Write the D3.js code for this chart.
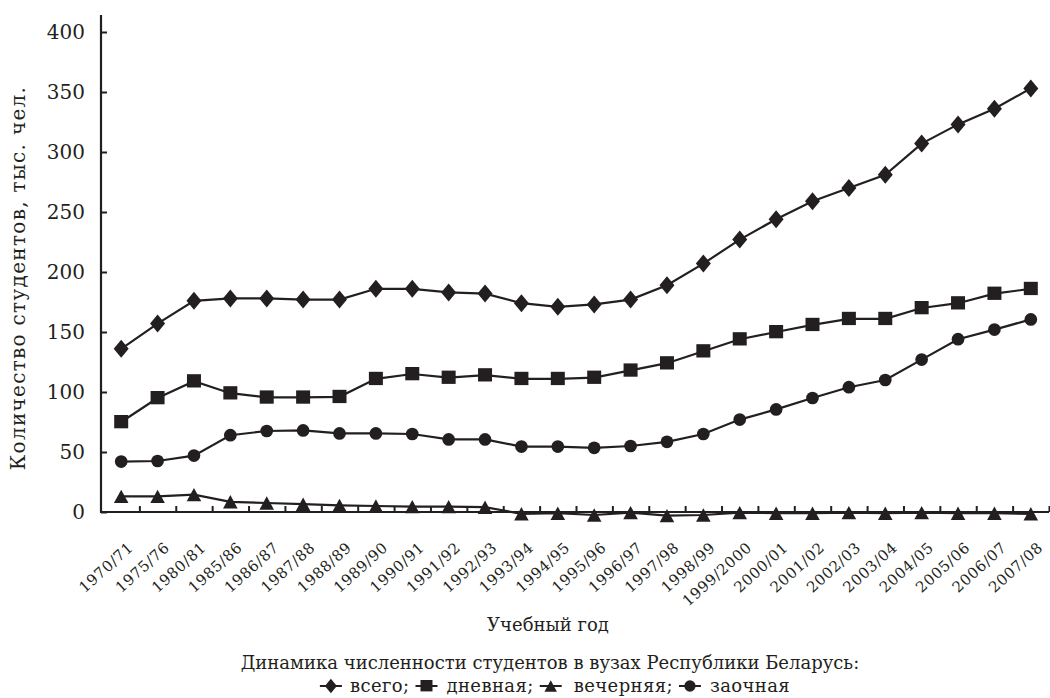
<!DOCTYPE html>
<html><head><meta charset="utf-8">
<script src="https://cdn.jsdelivr.net/npm/d3@7"></script>
<style>
html,body{margin:0;padding:0;background:#fff;}
svg{display:block;}
text{font-family:"DejaVu Serif",serif;fill:#231f20;}
</style></head>
<body>
<svg id="chart" width="1050" height="698"></svg>
<script>
const categories = ["1970/71","1975/76","1980/81","1985/86","1986/87","1987/88","1988/89","1989/90","1990/91","1991/92","1992/93","1993/94","1994/95","1995/96","1996/97","1997/98","1998/99","1999/2000","2000/01","2001/02","2002/03","2003/04","2004/05","2005/06","2006/07","2007/08"];
const total   = [136,157,176,178,178,177,177,186,186,183,182,174,171,173,177,189,207,227,244,259,270,281,307,323,336,353];
const daytime = [75,95,109,99,95.5,95.5,96,111,115,112,114,111,111,112,118,124,134,144,150,156,161,161,170,174,182,186];
const evening = [13,13,14.5,8.5,7.5,6.5,5.5,5,4.5,4.5,4,-1.5,-1,-2.5,-0.5,-3,-2.5,-0.5,-1,-1,-0.5,-1,-0.5,-1,-1,-1.5];
const extramural = [42,42.5,47,64,67.5,68,65.5,65.5,65,60.5,60.5,54.5,54.5,53.5,55,58.5,65,77,85.5,95,104,110,127,144,152,160.5];
const yTicks = [0,50,100,150,200,250,300,350,400];
const seriesNames = ["всего;","дневная;","вечерняя;","заочная"];
const yTitle = "Количество студентов, тыс. чел.";
const xTitle = "Учебный год";
const caption = "Динамика численности студентов в вузах Республики Беларусь:";

const ink = "#231f20";
const svg = d3.select("#chart");

const x = d3.scaleBand().domain(categories).range([103,1049]).paddingInner(0).paddingOuter(0);
const y = d3.scaleLinear().domain([0,400]).range([512,32]);
const axisX = 101;

function marker(g, type, s){
  if(type==="diamond"){
    g.append("path").attr("d",`M0,${-s*0.6}L${s*0.5},0L0,${s*0.6}L${-s*0.5},0Z`);
  } else if(type==="square"){
    g.append("rect").attr("x",-s/2).attr("y",-s/2).attr("width",s).attr("height",s*0.95);
  } else if(type==="triangle"){
    g.append("path").attr("d",`M0,${-s*0.48}L${s*0.52},${s*0.48}L${-s*0.52},${s*0.48}Z`);
  } else {
    g.append("circle").attr("r",s*0.47);
  }
}

// y axis
const yAxis = d3.axisLeft(y).tickValues(yTicks).tickSizeInner(-6).tickSizeOuter(0).tickPadding(16);
const gy = svg.append("g").attr("transform",`translate(${axisX},0)`).call(yAxis);
gy.select(".domain").remove();
gy.selectAll(".tick line").attr("stroke",ink).attr("stroke-width",2);
gy.selectAll(".tick text").attr("font-size",20).attr("font-family","DejaVu Serif").attr("fill",ink);
svg.append("line").attr("x1",axisX).attr("x2",axisX).attr("y1",y(400)-17).attr("y2",y(0)+1)
  .attr("stroke",ink).attr("stroke-width",2.2);

// x axis: ticks at band boundaries
const xb = d3.scaleLinear().domain([0,categories.length]).range(x.range());
const xTickAxis = d3.axisTop(xb).tickValues(d3.range(1,categories.length+1)).tickSize(6).tickFormat("");
const gxb = svg.append("g").attr("transform",`translate(0,${y(0)})`).call(xTickAxis);
gxb.select(".domain").remove();
gxb.selectAll(".tick line").attr("stroke",ink).attr("stroke-width",2);
svg.append("line").attr("x1",axisX).attr("x2",x.range()[1]).attr("y1",y(0)).attr("y2",y(0))
  .attr("stroke",ink).attr("stroke-width",2.2);

const xAxis = d3.axisBottom(x).tickSize(0).tickPadding(0);
const gx = svg.append("g").attr("transform",`translate(0,${y(0)})`).call(xAxis);
gx.select(".domain").remove();
gx.selectAll(".tick text")
  .attr("font-size",15).attr("font-family","DejaVu Serif").attr("fill",ink)
  .attr("letter-spacing",0.6)
  .attr("text-anchor","end").attr("dy",0).attr("y",0)
  .attr("transform","translate(13,37) rotate(-42)");

// series
const series = [
  {vals: total, type:"diamond", size:15},
  {vals: daytime, type:"square", size:14},
  {vals: evening, type:"triangle", size:14},
  {vals: extramural, type:"circle", size:13.5}
];
const line = d3.line().x((d,i)=>x(categories[i])+x.bandwidth()/2).y(d=>y(d));
series.forEach(s=>{
  svg.append("path").datum(s.vals).attr("d",line).attr("fill","none").attr("stroke",ink).attr("stroke-width",2.2);
  const g = svg.append("g").attr("fill",ink);
  s.vals.forEach((v,i)=>{
    const m = g.append("g").attr("transform",`translate(${x(categories[i])+x.bandwidth()/2},${y(v)})`);
    marker(m, s.type, s.size);
  });
});

// titles
svg.append("text").attr("transform",`translate(25,${(y(0)+y(400))/2 + 6}) rotate(-90)`)
  .attr("text-anchor","middle").attr("font-size",20).attr("letter-spacing",1.3).text(yTitle);
svg.append("text").attr("x",548).attr("y",631).attr("text-anchor","middle").attr("font-size",18).text(xTitle);
svg.append("text").attr("x",550).attr("y",669).attr("text-anchor","middle").attr("font-size",18).text(caption);

// legend
const lg = svg.append("g");
let cx = 0;
const gapsAfterMarker = [8,9,12,9];
series.forEach((s,i)=>{
  lg.append("line").attr("x1",cx).attr("x2",cx+22).attr("y1",0).attr("y2",0).attr("stroke",ink).attr("stroke-width",2);
  const m = lg.append("g").attr("transform",`translate(${cx+11},0)`).attr("fill",ink);
  marker(m, s.type, 12);
  cx += 22 + gapsAfterMarker[i];
  const t = lg.append("text").attr("x",cx).attr("y",6).attr("font-size",18).attr("letter-spacing",0.4).text(seriesNames[i]);
  cx += t.node().getComputedTextLength() + 6;
});
cx -= 6;
lg.attr("transform",`translate(${555 - cx/2},686)`);
</script>
</body></html>
